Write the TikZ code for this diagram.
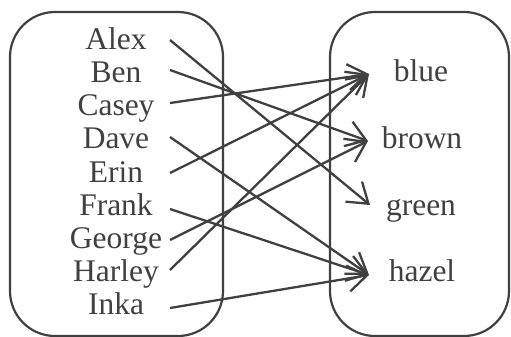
\documentclass[tikz,border=0pt]{standalone}
\usepackage{fontspec}
\setmainfont{Liberation Serif}
\usetikzlibrary{arrows.meta}
\definecolor{ink}{HTML}{404040}
\tikzset{
  setbox/.style={draw=ink, line width=2.2pt, rounded corners=45pt},
  item/.style={text=ink, anchor=base, inner sep=0pt, font=\fontsize{31.5}{33}\selectfont},
  maps/.style={draw=ink, line width=2.3pt, -{Straight Barb[length=19pt,width=26pt,line width=2.3pt]}}
}
\begin{document}
\begin{tikzpicture}[x=1pt,y=-1pt]
  \useasboundingbox (0,0) rectangle (511,337);
  % the two sets
  \draw[setbox] (10,12) rectangle (223,336);
  \draw[setbox] (330,12) rectangle (509,336);
  % names (domain)
  \node[item] (alex)   at (116,49.3)  {Alex};
  \node[item] (ben)    at (116,82.5)  {Ben};
  \node[item] (casey)  at (116,115.7) {Casey};
  \node[item] (dave)   at (116,148.9) {Dave};
  \node[item] (erin)   at (116,182.1) {Erin};
  \node[item] (frank)  at (116,215.3) {Frank};
  \node[item] (george) at (116,248.5) {George};
  \node[item] (harley) at (116,281.7) {Harley};
  \node[item] (inka)   at (116,314.9) {Inka};
  % eye colours (codomain)
  \node[item] (blue)  at (421,81.7)  {blue};
  \node[item] (brown) at (422,148.3) {brown};
  \node[item] (green) at (421,215)   {green};
  \node[item] (hazel) at (422,281.7) {hazel};
  % arrow tails and heads
  \coordinate (alex-o)   at (170,40);
  \coordinate (ben-o)    at (170,70);
  \coordinate (casey-o)  at (170,103);
  \coordinate (dave-o)   at (170,137);
  \coordinate (erin-o)   at (170,173);
  \coordinate (frank-o)  at (170,209);
  \coordinate (george-o) at (170,240);
  \coordinate (harley-o) at (170,270);
  \coordinate (inka-o)   at (170,308);
  \coordinate (blue-i)  at (369,74);
  \coordinate (brown-i) at (368,141);
  \coordinate (green-i) at (370,205);
  \coordinate (hazel-i) at (369,275);
  % the mapping
  \draw[maps] (alex-o)   -- (green-i);
  \draw[maps] (ben-o)    -- (brown-i);
  \draw[maps] (casey-o)  -- (blue-i);
  \draw[maps] (dave-o)   -- (hazel-i);
  \draw[maps] (erin-o)   -- (blue-i);
  \draw[maps] (frank-o)  -- (hazel-i);
  \draw[maps] (george-o) -- (brown-i);
  \draw[maps] (harley-o) -- (blue-i);
  \draw[maps] (inka-o)   -- (hazel-i);
\end{tikzpicture}
\end{document}
